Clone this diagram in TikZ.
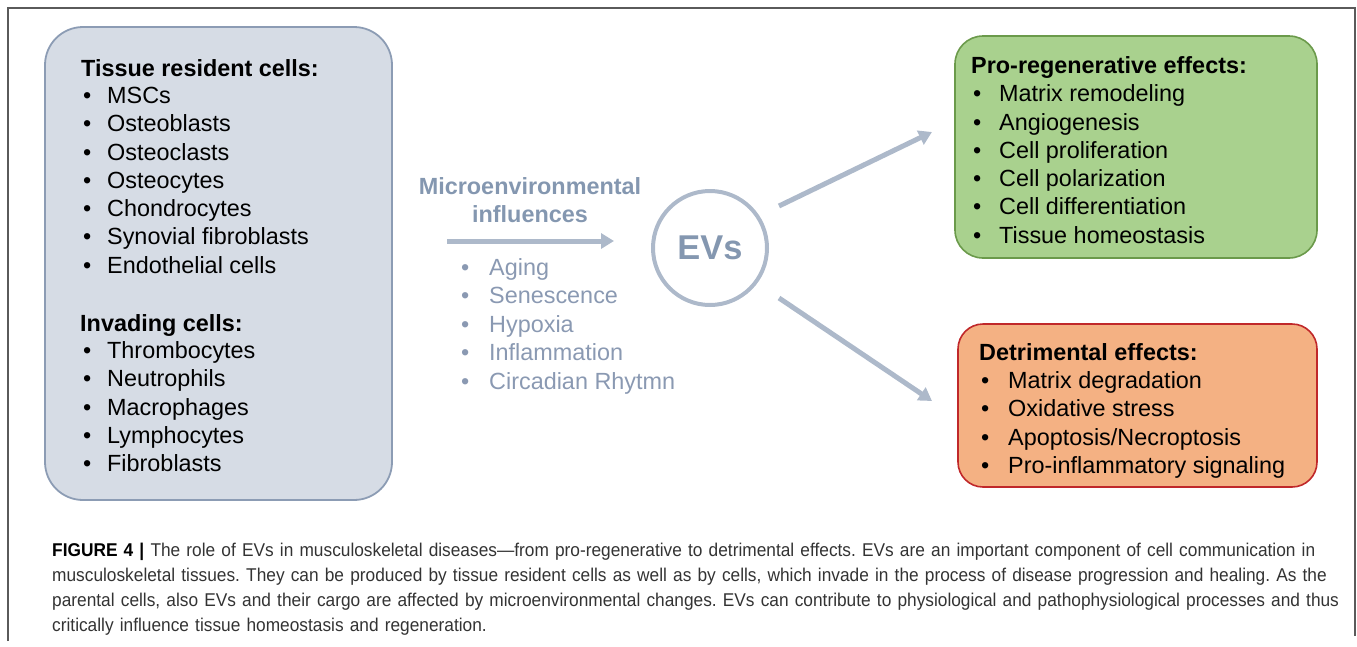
\documentclass[tikz,border=0pt]{standalone}
\usepackage{fontspec}
\setmainfont{Liberation Sans}
\newfontfamily\capfont[FakeStretch=0.935, Ligatures=TeX]{Liberation Sans}
\usepackage{xcolor}
\usepackage{tikz}
\usetikzlibrary{arrows.meta}
\definecolor{cellfill}{HTML}{D6DCE5}
\definecolor{celldraw}{HTML}{8C9CB4}
\definecolor{envtext}{HTML}{8497B0}
\definecolor{envitem}{HTML}{8A99B2}
\definecolor{envline}{HTML}{ADB9CA}
\definecolor{profill}{HTML}{A9D18E}
\definecolor{prodraw}{HTML}{6B9A4B}
\definecolor{detfill}{HTML}{F4B183}
\definecolor{detdraw}{HTML}{C0282A}
\definecolor{framegray}{HTML}{5A5A5A}
\definecolor{captext}{HTML}{333333}
\newcommand{\dotitem}[2][24pt]{\makebox[#1][l]{\textbullet}#2}
\frenchspacing

\begin{document}
\begin{tikzpicture}
    [x=1pt, y=-1pt,
     Box cells/.style={draw=celldraw, fill=cellfill, line width=1.8pt, rounded corners=38pt, inner sep=0pt},
     Box pro/.style={draw=prodraw, fill=profill, line width=1.6pt, rounded corners=28pt, inner sep=0pt},
     Box det/.style={draw=detdraw, fill=detfill, line width=1.6pt, rounded corners=25pt, inner sep=0pt},
     Text head/.style={anchor=base west, inner sep=0pt, font=\fontsize{23.4}{28}\selectfont\bfseries},
     Text item/.style={anchor=base west, inner sep=0pt, font=\fontsize{23.4}{28}\selectfont},
     Arrow env/.style={-{Triangle[length=13pt, width=15pt]}, line width=5pt, color=envline},
    ]
\useasboundingbox (0,0) rectangle (1357,646);
%outer frame, open at the bottom
\draw[framegray, line width=1.5pt] (8,641) -- (8,8) -- (1355,8) -- (1355,636);

%three boxes
\node[Box cells, minimum width=347pt, minimum height=473pt] (cells) at (218.5,263.5) {};
\node[Box pro, minimum width=362pt, minimum height=222pt] (pro) at (1136,147) {};
\node[Box det, minimum width=359pt, minimum height=163pt] (det) at (1137.5,405.5) {};

%cells that release EVs
\node[Text head] (resident) at (81,76.4) {Tissue resident cells:};
\node[Text item] (msc) at (83,103.4) {\dotitem{MSCs}};
\node[Text item] (oblast) at (83,131.7) {\dotitem{Osteoblasts}};
\node[Text item] (oclast) at (83,160.0) {\dotitem{Osteoclasts}};
\node[Text item] (ocyte) at (83,188.3) {\dotitem{Osteocytes}};
\node[Text item] (chondro) at (83,216.6) {\dotitem{Chondrocytes}};
\node[Text item] (synovial) at (83,244.9) {\dotitem{Synovial fibroblasts}};
\node[Text item] (endo) at (83,273.2) {\dotitem{Endothelial cells}};

\node[Text head] (invading) at (80,331.4) {Invading cells:};
\node[Text item] (thrombo) at (83,358.6) {\dotitem{Thrombocytes}};
\node[Text item] (neutro) at (83,386.9) {\dotitem{Neutrophils}};
\node[Text item] (macro) at (83,415.2) {\dotitem{Macrophages}};
\node[Text item] (lympho) at (83,443.5) {\dotitem{Lymphocytes}};
\node[Text item] (fibro) at (83,471.8) {\dotitem{Fibroblasts}};

%microenvironment
\node[Text head, anchor=base, text=envtext] (envhead) at (530,194.4) {Microenvironmental};
\node[Text head, anchor=base, text=envtext] (envsub) at (530,222.4) {influences};
\coordinate (envstart) at (447,241);
\coordinate (envend) at (614,241);
\draw[Arrow env] (envstart) -- (envend);

\node[Text item, text=envitem] (aging) at (461,275.4) {\dotitem[28pt]{Aging}};
\node[Text item, text=envitem] (senes) at (461,303.8) {\dotitem[28pt]{Senescence}};
\node[Text item, text=envitem] (hypoxia) at (461,332.2) {\dotitem[28pt]{Hypoxia}};
\node[Text item, text=envitem] (inflam) at (461,360.6) {\dotitem[28pt]{Inflammation}};
\node[Text item, text=envitem] (circ) at (461,389.0) {\dotitem[28pt]{Circadian Rhytmn}};

%the EVs
\node[circle, draw=envline, line width=4pt, minimum size=114pt, inner sep=0pt,
      text=envtext, font=\fontsize{34.4}{40}\selectfont\bfseries] (ev) at (710,248) {EVs};
\coordinate (upstart) at (779,206);
\coordinate (upend) at (932,132);
\coordinate (downstart) at (779,298);
\coordinate (downend) at (932,401);
\draw[Arrow env] (upstart) -- (upend);
\draw[Arrow env] (downstart) -- (downend);

%effects
\node[Text head] (prohead) at (971,73.4) {Pro-regenerative effects:};
\node[Text item] (remodel) at (973,101.7) {\dotitem[26pt]{Matrix remodeling}};
\node[Text item] (angio) at (973,130.0) {\dotitem[26pt]{Angiogenesis}};
\node[Text item] (prolif) at (973,158.3) {\dotitem[26pt]{Cell proliferation}};
\node[Text item] (polar) at (973,186.6) {\dotitem[26pt]{Cell polarization}};
\node[Text item] (differ) at (973,214.9) {\dotitem[26pt]{Cell differentiation}};
\node[Text item] (homeo) at (973,243.2) {\dotitem[26pt]{Tissue homeostasis}};

\node[Text head] (dethead) at (979,360.0) {Detrimental effects:};
\node[Text item] (degrad) at (981,388.4) {\dotitem[27pt]{Matrix degradation}};
\node[Text item] (oxid) at (981,416.7) {\dotitem[27pt]{Oxidative stress}};
\node[Text item] (apopt) at (981,445.0) {\dotitem[27pt]{Apoptosis/Necroptosis}};
\node[Text item] (proinf) at (981,473.3) {\dotitem[27pt]{Pro-inflammatory signaling}};

%caption
\node[anchor=base west, inner sep=0pt, text width=1330pt, align=left, text=captext,
      font=\capfont\fontsize{18.5}{25}\selectfont] (caption) at (52,556.7)
{\textcolor{black}{\textbf{FIGURE 4 |}} The role of EVs in musculoskeletal diseases---from pro-regenerative to detrimental effects. EVs are an important component of cell communication in\\
musculoskeletal tissues. They can be produced by tissue resident cells as well as by cells, which invade in the process of disease progression and healing. As the\\
parental cells, also EVs and their cargo are affected by microenvironmental changes. EVs can contribute to physiological and pathophysiological processes and thus\\
critically influence tissue homeostasis and regeneration.};

\end{tikzpicture}
\end{document}
